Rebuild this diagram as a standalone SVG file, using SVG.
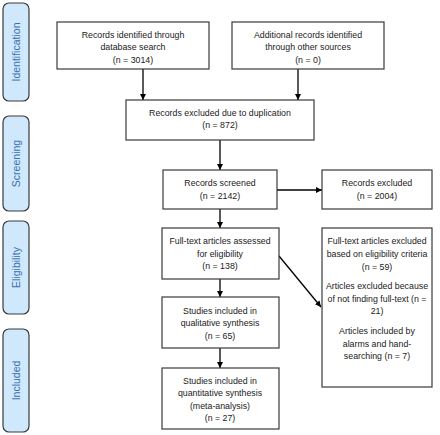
<svg xmlns="http://www.w3.org/2000/svg" width="440" height="435" viewBox="0 0 440 435">
<style>
.side{fill:#cfe8fb;stroke:#3a3a3a;stroke-width:1.2}
.sl{font-family:"Liberation Sans",Arial,sans-serif;font-size:10.5px;fill:#3b6fb2;text-anchor:middle}
.box{fill:#ffffff;stroke:#3a3a3a;stroke-width:1.2}
.t{font-family:"Liberation Sans",Arial,sans-serif;font-size:8.8px;fill:#1a1a1a;text-anchor:middle}
.c{stroke:#000;stroke-width:1.3;fill:none}
</style>
<defs>
<marker id="ah" viewBox="0 0 10 10" refX="10" refY="5" markerWidth="6" markerHeight="6" markerUnits="userSpaceOnUse" orient="auto">
<path d="M0,0 L10,5 L0,10 z" fill="#000"/>
</marker>
</defs>
<rect width="440" height="435" fill="#ffffff"/>
<g id="phase-identification"><rect class="side" x="3" y="3" width="26" height="98" rx="6"/><text class="sl" transform="translate(20,52) rotate(-90)">Identification</text></g>
<g id="phase-screening"><rect class="side" x="3" y="116" width="26" height="95" rx="6"/><text class="sl" transform="translate(20,163.5) rotate(-90)">Screening</text></g>
<g id="phase-eligibility"><rect class="side" x="3" y="221" width="26" height="93" rx="6"/><text class="sl" transform="translate(20,267.5) rotate(-90)">Eligibility</text></g>
<g id="phase-included"><rect class="side" x="3" y="329" width="26" height="103" rx="6"/><text class="sl" transform="translate(20,380.5) rotate(-90)">Included</text></g>

<g id="connectors">
<line class="c" x1="143" y1="69" x2="143" y2="100" marker-end="url(#ah)"/>
<line class="c" x1="298" y1="69" x2="298" y2="100" marker-end="url(#ah)"/>
<line class="c" x1="220" y1="140" x2="220" y2="170" marker-end="url(#ah)"/>
<line class="c" x1="277" y1="190" x2="322" y2="190" marker-end="url(#ah)"/>
<line class="c" x1="220" y1="209" x2="220" y2="228" marker-end="url(#ah)"/>
<line class="c" x1="279" y1="256" x2="321" y2="307" marker-end="url(#ah)"/>
<line class="c" x1="220" y1="279" x2="220" y2="297" marker-end="url(#ah)"/>
<line class="c" x1="220" y1="348" x2="220" y2="368" marker-end="url(#ah)"/>
</g>

<g id="db-search"><rect class="box" x="57" y="22" width="152" height="47"/>
<text class="t" x="133" y="38">Records identified through</text>
<text class="t" x="133" y="50">database search</text>
<text class="t" x="133" y="63">(n = 3014)</text></g>
<g id="other-sources"><rect class="box" x="232" y="22" width="152" height="47"/>
<text class="t" x="308" y="38">Additional records identified</text>
<text class="t" x="308" y="50">through other sources</text>
<text class="t" x="308" y="63">(n = 0)</text></g>
<g id="duplication"><rect class="box" x="126" y="100" width="188" height="40"/>
<text class="t" x="220" y="116">Records excluded due to duplication</text>
<text class="t" x="220" y="128">(n = 872)</text></g>
<g id="screened"><rect class="box" x="163" y="170" width="114" height="39"/>
<text class="t" x="220" y="186">Records screened</text>
<text class="t" x="220" y="199">(n = 2142)</text></g>
<g id="excluded"><rect class="box" x="322" y="170" width="110" height="39"/>
<text class="t" x="377" y="186">Records excluded</text>
<text class="t" x="377" y="199">(n = 2004)</text></g>
<g id="fulltext"><rect class="box" x="162" y="228" width="117" height="51"/>
<text class="t" x="220" y="244">Full-text articles assessed</text>
<text class="t" x="220" y="257">for eligibility</text>
<text class="t" x="220" y="269">(n = 138)</text></g>
<g id="fulltext-excluded"><rect class="box" x="322" y="228" width="110" height="159"/>
<text class="t" x="377" y="244">Full-text articles excluded</text>
<text class="t" x="377" y="257">based on eligibility criteria</text>
<text class="t" x="377" y="270">(n = 59)</text>
<text class="t" x="377" y="289">Articles excluded because</text>
<text class="t" x="377" y="302">of not finding full-text (n =</text>
<text class="t" x="377" y="314">21)</text>
<text class="t" x="377" y="334">Articles included by</text>
<text class="t" x="377" y="347">alarms and hand-</text>
<text class="t" x="377" y="359">searching (n = 7)</text></g>
<g id="qualitative"><rect class="box" x="162" y="297" width="117" height="51"/>
<text class="t" x="220" y="314">Studies included in</text>
<text class="t" x="220" y="326">qualitative synthesis</text>
<text class="t" x="220" y="339">(n = 65)</text></g>
<g id="quantitative"><rect class="box" x="162" y="368" width="117" height="61"/>
<text class="t" x="220" y="384">Studies included in</text>
<text class="t" x="220" y="396">quantitative synthesis</text>
<text class="t" x="220" y="409">(meta-analysis)</text>
<text class="t" x="220" y="421">(n = 27)</text></g>
</svg>
